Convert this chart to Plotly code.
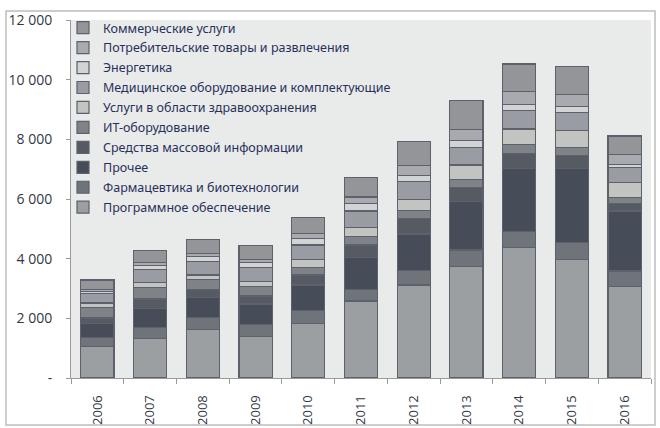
import plotly.graph_objects as go

years = ["2006", "2007", "2008", "2009", "2010", "2011", "2012", "2013", "2014", "2015", "2016"]

# stacked bottom -> top
software   = [1050, 1330, 1630, 1385, 1830, 2580, 3115, 3730, 4365, 3975, 3080]
pharma     = [320, 370, 390, 415, 445, 400, 480, 560, 535, 570, 505]
other      = [470, 635, 670, 680, 840, 1050, 1230, 1620, 2125, 2480, 2010]
media      = [170, 310, 280, 270, 335, 425, 525, 480, 505, 420, 260]
it_hw      = [345, 400, 335, 310, 260, 300, 255, 270, 300, 270, 190]
health_srv = [160, 150, 145, 170, 270, 290, 380, 480, 515, 570, 500]
med_equip  = [325, 440, 455, 480, 480, 555, 590, 580, 615, 605, 515]
energy     = [60, 145, 155, 160, 225, 250, 225, 235, 215, 200, 100]
consumer   = [75, 80, 125, 105, 170, 220, 335, 380, 420, 415, 335]
commercial = [310, 425, 470, 455, 535, 650, 805, 980, 930, 925, 615]

series = [
    ("Программное обеспечение", software, "#9c9fa2"),
    ("Фармацевтика и биотехнологии", pharma, "#6f737a"),
    ("Прочее", other, "#464d59"),
    ("Средства массовой информации", media, "#555a63"),
    ("ИТ-оборудование", it_hw, "#7f8286"),
    ("Услуги в области здравоохранения", health_srv, "#c2c4c2"),
    ("Медицинское оборудование и комплектующие", med_equip, "#9a9ca3"),
    ("Энергетика", energy, "#d2d3d5"),
    ("Потребительские товары и развлечения", consumer, "#a8aaaf"),
    ("Коммерческие услуги", commercial, "#939598"),
]

y_tickvals = [0, 2000, 4000, 6000, 8000, 10000, 12000]
y_ticktext = ["-", "2 000", "4 000", "6 000", "8 000", "10 000", "12 000"]

fig = go.Figure()
n = len(series)
for i, (name, vals, col) in enumerate(series):
    fig.add_trace(go.Bar(
        x=years, y=vals, name=name, legendgroup="g%d" % i,
        legendrank=1000 + (n - i),
        marker=dict(color=col, line=dict(color="#5c616b", width=1.2)),
    ))

# plot area: x 71..651, y 20..378 (pixels)
L, R, T, B = 71, 9, 20, 50
W, H = 660 - L - R, 428 - T - B

def px(x):
    return (x - L) / W

def py(y):
    return (428 - B - y) / H

fig.update_layout(
    width=660, height=428,
    margin=dict(l=L, r=R, t=T, b=B, pad=0),
    barmode="stack",
    bargap=0.37,
    paper_bgcolor="white",
    plot_bgcolor="#e9ebea",
    font=dict(family="Open Sans, Noto Sans, sans-serif", size=11, color="#333844"),
    showlegend=True,
    legend=dict(
        x=px(63), y=py(13), xanchor="left", yanchor="top",
        bgcolor="rgba(0,0,0,0)",
        font=dict(size=12.5, color="#28305a", family="Noto Sans, sans-serif"),
        itemwidth=30,
        traceorder="grouped",
        tracegroupgap=0.7,
    ),
    xaxis=dict(
        type="category",
        automargin=False,
        showgrid=False,
        showline=True, linecolor="#9a9a9a", linewidth=1,
        ticks="outside", tickson="boundaries", ticklen=5, tickcolor="#9a9a9a",
        tickangle=-90,
        ticklabelstandoff=11,
        tickfont=dict(size=13, color="#333844"),
    ),
    yaxis=dict(
        range=[0, 12000],
        automargin=False,
        showgrid=False,
        showline=True, linecolor="#9a9a9a", linewidth=1,
        ticks="outside", ticklen=4, tickcolor="#9a9a9a",
        tickvals=y_tickvals, ticktext=y_ticktext,
        ticklabelstandoff=11,
        tickfont=dict(size=14, color="#333844"),
        zeroline=False,
    ),
    shapes=[
        dict(type="rect", xref="paper", yref="paper",
             x0=px(6), x1=px(655), y0=py(425), y1=py(11),
             line=dict(color="#bdbdbd", width=1.5), fillcolor="rgba(0,0,0,0)", layer="below"),
    ],
)

fig.write_html("out.html")
